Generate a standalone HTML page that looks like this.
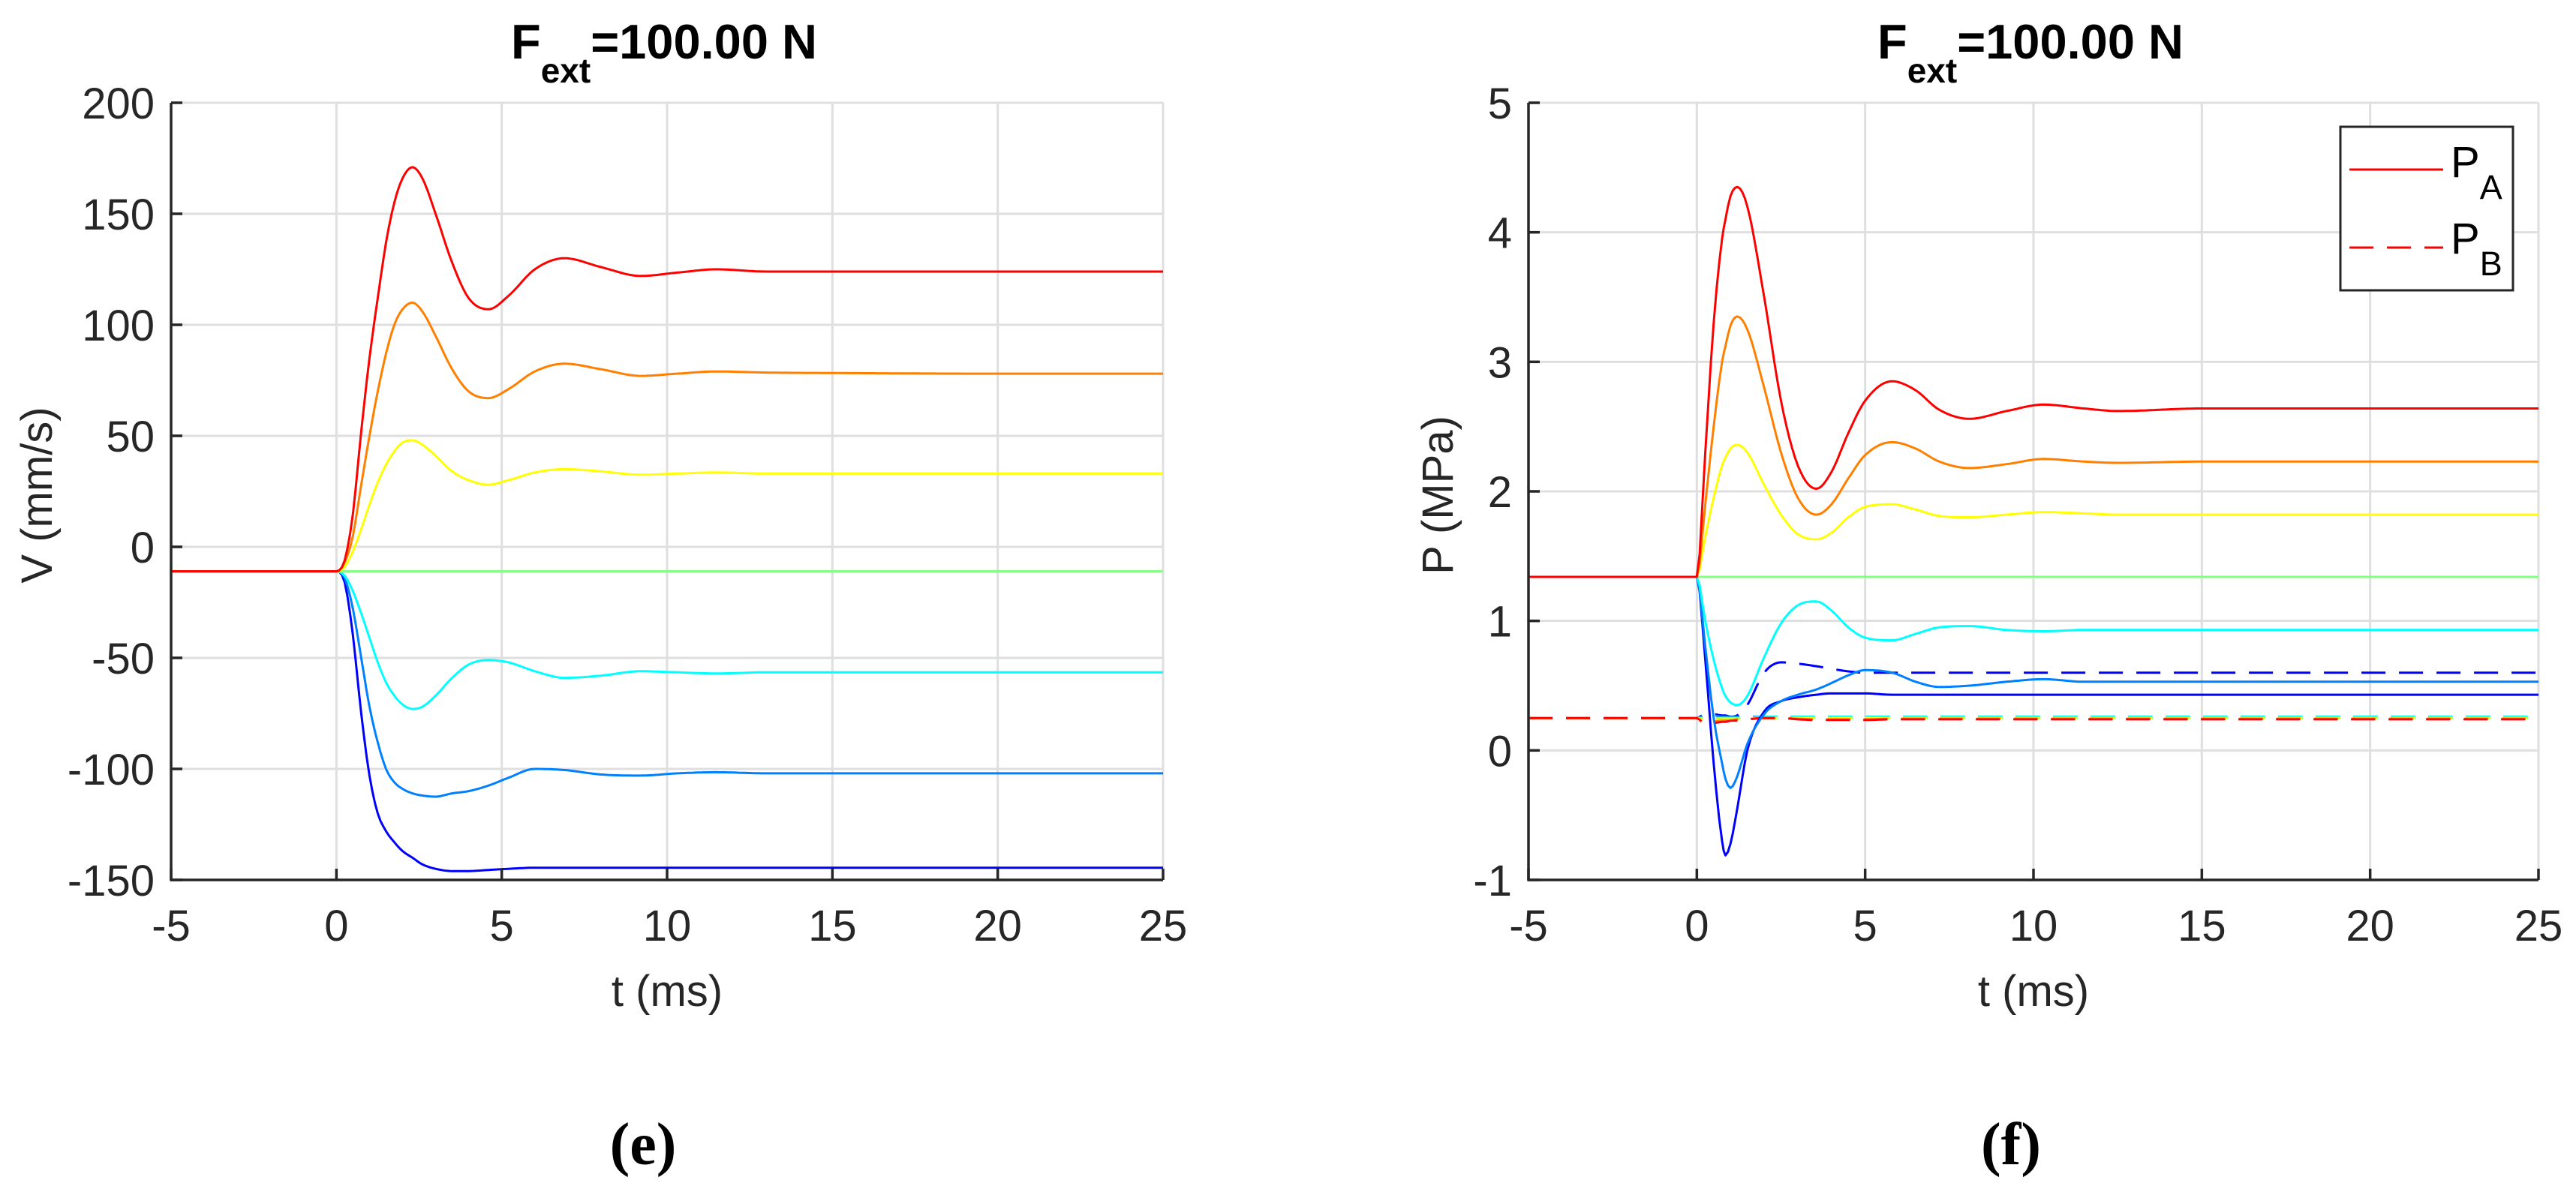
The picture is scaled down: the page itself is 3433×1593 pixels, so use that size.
<!DOCTYPE html>
<html><head><meta charset="utf-8"><style>
html,body{margin:0;padding:0;background:#fff}
svg{display:block}
text{font-family:"Liberation Sans",Arial,sans-serif;fill:#262626}
</style></head><body>
<svg id="fig" width="3433" height="1593" viewBox="0 0 3433 1593" xmlns="http://www.w3.org/2000/svg">
<g id="plotE"></g>
<g id="plotF"></g>
<text x="857" y="1552" text-anchor="middle" style="font-family:'Liberation Serif',serif;font-size:80px;font-weight:bold;fill:#000">(e)</text>
<text x="2680" y="1552" text-anchor="middle" style="font-family:'Liberation Serif',serif;font-size:80px;font-weight:bold;fill:#000">(f)</text>
</svg>
<script>
// ---- data ----
const seriesColors = ["#0000ff","#0080ff","#00ffff","#80ff80","#ffff00","#ff8000","#ff0000"];
const xTicks = [-5,0,5,10,15,20,25];
const vTicks = [-150,-100,-50,0,50,100,150,200];
const pTicks = [-1,0,1,2,3,4,5];

const tV = [-5,0,0.25,0.5,0.75,1.0,1.25,1.5,1.75,2.0,2.3,2.6,3.0,3.5,4.0,4.6,5.2,6.0,6.9,8.0,9.2,10.3,11.5,13,15,20,25];
const vBlue   = [-11,-11,-16,-40,-75,-103,-120,-128,-133,-137,-140,-143,-145,-146,-146,-145.5,-145,-144.5,-144.5,-144.5,-144.5,-144.5,-144.5,-144.5,-144.5,-144.5,-144.5];
const vLBlue  = [-11,-11,-14,-28,-50,-72,-88,-100,-106,-109,-111,-112,-112.5,-111,-110,-107.5,-104,-100,-100.5,-102.5,-103,-102,-101.5,-102,-102,-102,-102];
const vCyan   = [-11,-11,-13,-20,-30,-41,-52,-61,-67,-71,-73,-72,-67,-59,-53,-51,-52,-56,-59,-58,-56,-56.5,-57,-56.5,-56.5,-56.5,-56.5];
const vGreen  = [-11,-11,-11,-11,-11,-11,-11,-11,-11,-11,-11,-11,-11,-11,-11,-11,-11,-11,-11,-11,-11,-11,-11,-11,-11,-11,-11];
const vYellow = [-11,-11,-9,-2,8,19,29,37,43,47,48,46,41,34,30,28,30,33.5,35,34,32.5,33,33.5,33,33,33,33];
const vOrange = [-11,-11,-7,5,28,50,70,87,100,107,110,106,95,80,70,67,71,79,82.5,80,77,78,79,78.5,78.3,78,78];
const vRed    = [-11,-11,-6,15,52,85,112,137,155,166,171,166,150,128,112,107,113,125,130,126,122,123.5,125,124,124,124,124];

const tP = [-5,0,0.25,0.5,0.75,0.85,1.0,1.2,1.5,2.0,2.5,3.0,3.55,4.0,4.5,5.0,5.8,6.5,7.2,8.1,9.2,10.3,11.5,12.5,15,20,25];
const paBlue   = [1.34,1.34,0.7,-0.1,-0.7,-0.81,-0.72,-0.45,0.0,0.3,0.38,0.41,0.43,0.44,0.44,0.44,0.43,0.43,0.43,0.43,0.43,0.43,0.43,0.43,0.43,0.43,0.43];
const paLBlue  = [1.34,1.34,0.8,0.25,-0.1,-0.22,-0.29,-0.2,0.05,0.28,0.38,0.43,0.47,0.52,0.58,0.62,0.6,0.53,0.49,0.5,0.53,0.55,0.53,0.53,0.53,0.53,0.53];
const paCyan   = [1.34,1.34,1.0,0.7,0.48,0.42,0.37,0.35,0.42,0.72,0.98,1.12,1.15,1.08,0.95,0.87,0.85,0.9,0.95,0.96,0.93,0.92,0.93,0.93,0.93,0.93,0.93];
const paGreen  = [1.34,1.34,1.34,1.34,1.34,1.34,1.34,1.34,1.34,1.34,1.34,1.34,1.34,1.34,1.34,1.34,1.34,1.34,1.34,1.34,1.34,1.34,1.34,1.34,1.34,1.34,1.34];
const paYellow = [1.34,1.34,1.65,1.95,2.2,2.26,2.33,2.36,2.3,2.05,1.82,1.67,1.63,1.68,1.8,1.88,1.9,1.86,1.81,1.8,1.82,1.84,1.83,1.82,1.82,1.82,1.82];
const paOrange = [1.34,1.34,1.9,2.5,3.0,3.12,3.28,3.35,3.25,2.8,2.3,1.95,1.82,1.9,2.1,2.28,2.38,2.33,2.23,2.18,2.21,2.25,2.23,2.22,2.23,2.23,2.23];
const paRed    = [1.34,1.34,2.3,3.3,3.95,4.1,4.28,4.35,4.2,3.5,2.7,2.2,2.02,2.15,2.45,2.7,2.85,2.78,2.63,2.56,2.62,2.67,2.64,2.62,2.64,2.64,2.64];

const pbBlue   = [0.25,0.25,0.28,0.28,0.27,0.27,0.26,0.27,0.35,0.6,0.68,0.67,0.65,0.63,0.61,0.6,0.6,0.6,0.6,0.6,0.6,0.6,0.6,0.6,0.6,0.6,0.6];
const pbLBlue  = [0.25,0.25,0.27,0.27,0.26,0.26,0.26,0.26,0.26,0.26,0.26,0.26,0.26,0.26,0.26,0.26,0.26,0.26,0.26,0.26,0.26,0.26,0.26,0.26,0.26,0.26,0.26];
const pbCyan   = [0.25,0.25,0.24,0.24,0.25,0.25,0.25,0.25,0.25,0.26,0.26,0.26,0.26,0.26,0.26,0.26,0.26,0.26,0.26,0.26,0.26,0.26,0.26,0.26,0.26,0.26,0.26];
const pbGreen  = [0.25,0.25,0.25,0.25,0.25,0.25,0.25,0.25,0.25,0.25,0.25,0.25,0.25,0.25,0.25,0.25,0.25,0.25,0.25,0.25,0.25,0.25,0.25,0.25,0.25,0.25,0.25];
const pbYellow = [0.25,0.25,0.23,0.23,0.24,0.24,0.24,0.24,0.25,0.25,0.25,0.25,0.25,0.25,0.25,0.25,0.25,0.25,0.25,0.25,0.25,0.25,0.25,0.25,0.25,0.25,0.25];
const pbOrange = [0.25,0.25,0.21,0.22,0.23,0.23,0.23,0.24,0.24,0.25,0.25,0.245,0.24,0.24,0.24,0.24,0.245,0.245,0.245,0.245,0.245,0.245,0.245,0.245,0.245,0.245,0.245];
const pbRed    = [0.25,0.25,0.2,0.21,0.22,0.22,0.23,0.23,0.24,0.25,0.25,0.24,0.235,0.235,0.235,0.235,0.24,0.24,0.24,0.24,0.24,0.24,0.24,0.24,0.24,0.24,0.24];

const vSeries  = [vBlue,vLBlue,vCyan,vGreen,vYellow,vOrange,vRed];
const paSeries = [paBlue,paLBlue,paCyan,paGreen,paYellow,paOrange,paRed];
const pbSeries = [pbBlue,pbLBlue,pbCyan,pbGreen,pbYellow,pbOrange,pbRed];
const seriesNames = ["blue","light-blue","cyan","green","yellow","orange","red"];

// ---- rendering ----
const NS = "http://www.w3.org/2000/svg";
function mk(tag, attrs, parent){
  const e = document.createElementNS(NS, tag);
  for (const k in attrs) e.setAttribute(k, attrs[k]);
  parent.appendChild(e);
  return e;
}
function monotone(xs, ys){
  const n = xs.length, d = [], m = new Array(n);
  for (let i=0;i<n-1;i++) d.push((ys[i+1]-ys[i])/(xs[i+1]-xs[i]));
  m[0]=d[0]; m[n-1]=d[n-2];
  for (let i=1;i<n-1;i++){ m[i] = (d[i-1]*d[i]<=0)?0:(d[i-1]+d[i])/2; }
  for (let i=0;i<n-1;i++){
    if (d[i]===0){ m[i]=0; m[i+1]=0; continue; }
    const a=m[i]/d[i], b=m[i+1]/d[i], s=a*a+b*b;
    if (s>9){ const t=3/Math.sqrt(s); m[i]=t*a*d[i]; m[i+1]=t*b*d[i]; }
  }
  const out=[];
  for (let i=0;i<n-1;i++){
    const h=xs[i+1]-xs[i], steps=Math.max(2,Math.ceil(h*12));
    for (let k=0;k<steps;k++){
      const t=k/steps, t2=t*t, t3=t2*t;
      const y=(2*t3-3*t2+1)*ys[i]+(t3-2*t2+t)*h*m[i]+(-2*t3+3*t2)*ys[i+1]+(t3-t2)*h*m[i+1];
      out.push([xs[i]+t*h,y]);
    }
  }
  out.push([xs[n-1],ys[n-1]]);
  return out;
}
function drawPlot(g, cfg){
  const L=cfg.left,R=cfg.right,T=137,B=1173;
  const sx = v => L+(v-xTicks[0])/(xTicks[xTicks.length-1]-xTicks[0])*(R-L);
  const sy = v => B-(v-cfg.yTicks[0])/(cfg.yTicks[cfg.yTicks.length-1]-cfg.yTicks[0])*(B-T);
  const grid = mk('g',{},g);
  
  
  xTicks.forEach(v=>{ if(v!==xTicks[0]) mk('line',{x1:sx(v),x2:sx(v),y1:T,y2:B,stroke:'#dfdfdf','stroke-width':3},grid); });
  cfg.yTicks.forEach(v=>{ if(v!==cfg.yTicks[0]) mk('line',{x1:L,x2:R,y1:sy(v),y2:sy(v),stroke:'#dfdfdf','stroke-width':3},grid); });
  const lines = mk('g',{'stroke-linejoin':'round','stroke-linecap':'butt',fill:'none'},g);
  
  
  cfg.sets.forEach(set=>{
    set.series.forEach((ys,i)=>{
      const pts = monotone(set.t, ys);
      const d = pts.map((p,j)=>(j?'L':'M')+sx(p[0]).toFixed(1)+' '+sy(p[1]).toFixed(1)).join('');
      const attrs = {d:d,stroke:seriesColors[i],'stroke-width':3};
      if (set.dash) attrs['stroke-dasharray']='32 18';
      const p = mk('path',attrs,lines);
      
      
    });
  });
  const ax = mk('g',{stroke:'#262626','stroke-width':3.5},g);
  
  
  mk('line',{x1:L,x2:L,y1:T,y2:B+1.5},ax);
  mk('line',{x1:L-1.5,x2:R,y1:B,y2:B},ax);
  xTicks.forEach(v=>{ mk('line',{x1:sx(v),x2:sx(v),y1:B,y2:B-15},ax);
    const t=mk('text',{x:sx(v),y:1254,'text-anchor':'middle','font-size':58},g); t.textContent=v;
    
    
  });
  cfg.yTicks.forEach(v=>{ mk('line',{x1:L,x2:L+15,y1:sy(v),y2:sy(v)},ax);
    const t=mk('text',{x:L-22,y:sy(v)+21,'text-anchor':'end','font-size':58},g); t.textContent=v;
    
    
  });
  const cx=(L+R)/2;
  const xl=mk('text',{x:cx,y:1341,'text-anchor':'middle','font-size':58},g); xl.textContent='t (ms)';
  
  
  const yl=mk('text',{x:0,y:0,'text-anchor':'middle','font-size':58,transform:`translate(${cfg.ylx},660) rotate(-90)`},g); yl.textContent=cfg.ylabel;
  
  
  const ti=mk('text',{x:cx-4,y:78,'text-anchor':'middle','font-size':65,'font-weight':'bold',style:'fill:#000'},g);
  
  
  ti.innerHTML='F<tspan dy="32" font-size="46">ext</tspan><tspan dy="-32">=100.00 N</tspan>';
}
drawPlot(document.getElementById('plotE'),{left:228,right:1550,yTicks:vTicks,ylabel:'V (mm/s)',ylx:69,
  sets:[{name:'velocity',t:tV,series:vSeries}]});
drawPlot(document.getElementById('plotF'),{left:2037,right:3383,yTicks:pTicks,ylabel:'P (MPa)',ylx:1936,
  sets:[{name:'pressure-b',t:tP,series:pbSeries,dash:true},{name:'pressure-a',t:tP,series:paSeries}]});

// legend
const fig=document.getElementById('plotF');
const lg=mk('g',{},fig);


mk('rect',{x:3119,y:169,width:230,height:218,fill:'#fff',stroke:'#262626','stroke-width':3},lg);
mk('line',{x1:3131,x2:3256,y1:226,y2:226,stroke:'#ff0000','stroke-width':3},lg);
mk('line',{x1:3131,x2:3256,y1:330,y2:330,stroke:'#ff0000','stroke-width':3,'stroke-dasharray':'32 18'},lg);
const la=mk('text',{x:3266,y:236,'font-size':58,style:'fill:#000'},lg);
la.innerHTML='P<tspan dy="29" font-size="45">A</tspan>';


const lb=mk('text',{x:3266,y:338,'font-size':58,style:'fill:#000'},lg);
lb.innerHTML='P<tspan dy="29" font-size="45">B</tspan>';


</script>
</body></html>
